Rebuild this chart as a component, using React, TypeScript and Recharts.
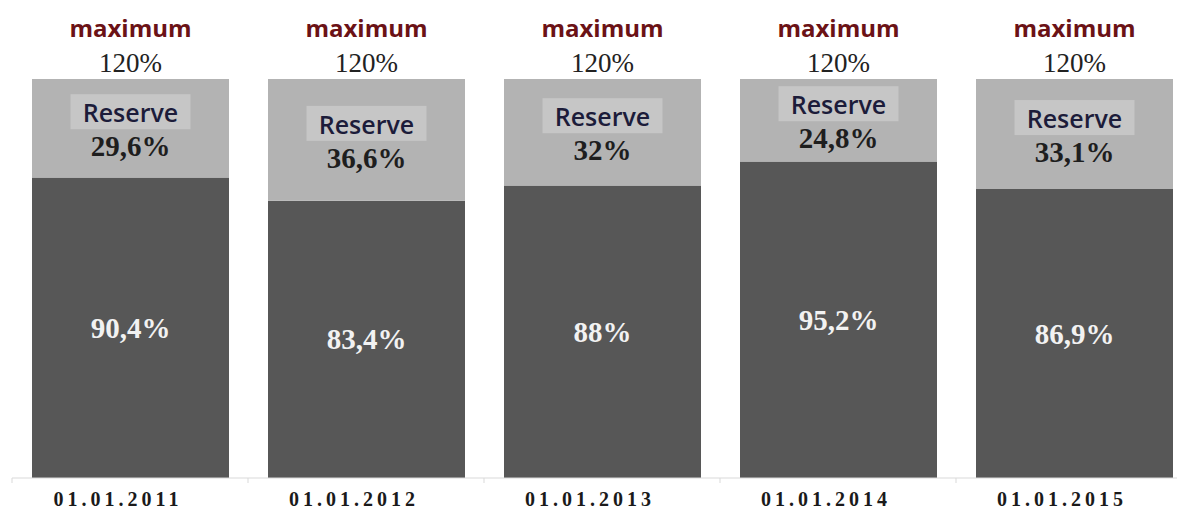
import React from 'react';
import { BarChart, Bar, XAxis, YAxis, LabelList } from 'recharts';

const categories = ['01.01.2011', '01.01.2012', '01.01.2013', '01.01.2014', '01.01.2015'];
const usedValues = [90.4, 83.4, 88, 95.2, 86.9];
const reserveValues = [29.6, 36.6, 32, 24.8, 33.1];
const maximumValue = 120;
const maximumLabel = 'maximum';
const reserveLabel = 'Reserve';

const data = categories.map((c, i) => ({ name: c, used: usedValues[i], reserve: reserveValues[i] }));

const fmt = (v: number) => String(v).replace('.', ',') + '%';

const MARGIN = { top: 79, right: 0, bottom: 0, left: 12 };
const PLOT_W = 1180;
const CHART_W = MARGIN.left + PLOT_W + MARGIN.right;
const CHART_H = 509;
const BAND = PLOT_W / categories.length;

const SERIF = '"Liberation Serif", "Times New Roman", serif';
const SANS = '"Open Sans", sans-serif';

const ReserveLabel = (props: any) => {
  const { x, y, width, height, value } = props;
  const cx = x + width / 2;
  const cy = y + height / 2;
  const boxTop = cy - 34;
  return (
    <g>
      <text x={cx} y={y - 42} textAnchor="middle" fontFamily={SANS} fontWeight={700} fontSize={24} fill="#6b1216">
        {maximumLabel}
      </text>
      <text x={cx} y={y - 7} textAnchor="middle" fontFamily={SERIF} fontSize={27} fill="#222">
        {maximumValue}%
      </text>
      <rect x={cx - 60} y={boxTop} width={120} height={35} fill="#c6c6c6" />
      <text x={cx} y={boxTop + 28} textAnchor="middle" fontFamily={SANS} fontWeight={600} fontSize={25} fill="#1c1c3a">
        {reserveLabel}
      </text>
      <text x={cx} y={boxTop + 62} textAnchor="middle" fontFamily={SERIF} fontWeight={700} fontSize={29} fill="#1e1e1e">
        {fmt(value)}
      </text>
    </g>
  );
};

const UsedLabel = (props: any) => {
  const { x, y, width, height, value } = props;
  return (
    <text x={x + width / 2} y={y + height / 2 + 10} textAnchor="middle" fontFamily={SERIF} fontWeight={700} fontSize={29} fill="#f2f2f2">
      {fmt(value)}
    </text>
  );
};

const Tick = (props: any) => {
  const { x, y, payload } = props;
  return (
    <g>
      <line x1={x - BAND / 2} x2={x - BAND / 2} y1={y} y2={y + 5} stroke="#d9d9d9" />
      <text x={x - 12} y={y + 28} textAnchor="middle" fontFamily={SERIF} fontWeight={700} fontSize={20} letterSpacing={4} fill="#1a1a1a">
        {payload.value}
      </text>
    </g>
  );
};

export default function App() {
  return (
    <div style={{ position: 'absolute', left: 0, top: 0, width: 1177, height: 509, overflow: 'hidden', background: '#fff' }}>
      <BarChart width={CHART_W} height={CHART_H} data={data} margin={MARGIN} barSize={197}>
        <XAxis
          dataKey="name"
          height={31}
          axisLine={{ stroke: '#d9d9d9' }}
          tickLine={false}
          tickSize={0}
          tickMargin={0}
          tick={<Tick />}
          interval={0}
        />
        <YAxis hide domain={[0, maximumValue]} allowDataOverflow />
        <Bar dataKey="used" stackId="a" fill="#575757" isAnimationActive={false}>
          <LabelList dataKey="used" content={<UsedLabel />} />
        </Bar>
        <Bar dataKey="reserve" stackId="a" fill="#b3b3b3" isAnimationActive={false}>
          <LabelList dataKey="reserve" content={<ReserveLabel />} />
        </Bar>
      </BarChart>
    </div>
  );
}
